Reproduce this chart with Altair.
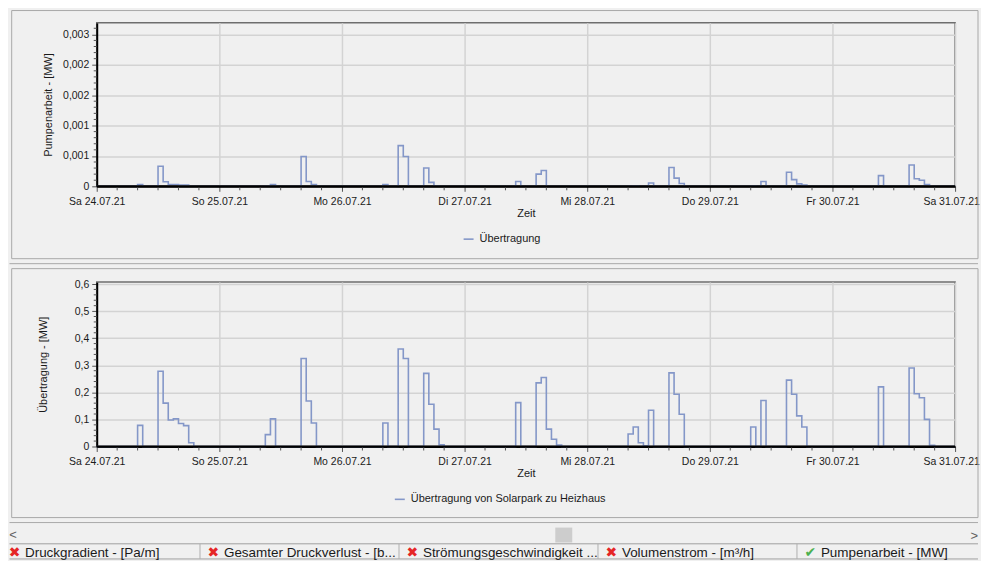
import altair as alt
import pandas as pd

FONT = "Liberation Sans"
LINE_COLOR = "#8497c8"
FRAME_COLOR = "#a9a9a9"
BG = "#f0f0f0"

N_HOURS = 168
DAY_TICKS = [0, 24, 48, 72, 96, 120, 144, 168]
DAY_LABELS = ["Sa 24.07.21", "So 25.07.21", "Mo 26.07.21", "Di 27.07.21",
              "Mi 28.07.21", "Do 29.07.21", "Fr 30.07.21", "Sa 31.07.21"]

TOP_Y_TICKS = [0, 0.0005, 0.001, 0.0015, 0.002, 0.0025]
TOP_Y_LABELS = ["0", "0,001", "0,001", "0,002", "0,002", "0,003"]
BOT_Y_TICKS = [0, 0.1, 0.2, 0.3, 0.4, 0.5, 0.6]
BOT_Y_LABELS = ["0", "0,1", "0,2", "0,3", "0,4", "0,5", "0,6"]

TOP_SERIES = "Übertragung"
BOT_SERIES = "Übertragung von Solarpark zu Heizhaus"

# start hour -> consecutive hourly values (MW)
PUMP_PEAKS = {
    8: [0.00003],
    12: [0.00033, 0.000076, 0.00003, 0.00003, 0.00002, 0.00002],
    33: [0.000005, 0.00003],
    40: [0.00049, 0.00008, 0.00003],
    56: [0.00003],
    59: [0.00067, 0.00049],
    64: [0.0003, 0.000065, 0.00001],
    82: [0.00008],
    86: [0.0002, 0.00026],
    104: [0.000003, 0.00001],
    108: [0.000055],
    112: [0.00031, 0.000135, 0.000045],
    128: [0.00001],
    130: [0.00008],
    135: [0.00023, 0.00011, 0.00004, 0.00002],
    153: [0.000175],
    159: [0.00035, 0.000125, 0.0001, 0.00003],
}
FLOW_PEAKS = {
    8: [0.078],
    12: [0.278, 0.16, 0.098, 0.102, 0.085, 0.077, 0.014],
    33: [0.044, 0.102],
    40: [0.325, 0.168, 0.087],
    56: [0.087],
    59: [0.36, 0.325],
    64: [0.27, 0.156, 0.064, 0.006],
    82: [0.162],
    86: [0.235, 0.255, 0.064, 0.027, 0.005],
    104: [0.046, 0.072, 0.014, 0.003, 0.134],
    112: [0.272, 0.193, 0.119],
    128: [0.072],
    130: [0.17],
    135: [0.245, 0.193, 0.113, 0.072],
    153: [0.22],
    159: [0.29, 0.195, 0.18, 0.1, 0.004],
}

TAB_NAMES = ["Druckgradient - [Pa/m]", "Gesamter Druckverlust - [b...",
             "Strömungsgeschwindigkeit ...", "Volumenstrom - [m³/h]",
             "Pumpenarbeit - [MW]"]
TAB_OK = [False, False, False, False, True]

PLOT_W = 861


def series_frame(peaks, name):
    vals = {}
    for start, seq in peaks.items():
        for k, v in enumerate(seq):
            vals[start + k] = v
    rows = [{"h": h, "v": vals.get(h, 0.0), "s": name} for h in range(N_HOURS + 1)]
    return pd.DataFrame(rows)


def panel(peaks, name, H, y_max, y_ticks, y_labels, y_minor, y_title, title_x,
          legend_x, legend_y, frame_top, frame_bottom, sep_y):
    df = series_frame(peaks, name)
    X = alt.X("h:Q", scale=alt.Scale(domain=[0, N_HOURS], nice=False, zero=False),
              axis=alt.Axis(values=DAY_TICKS,
                            labelExpr=f"{DAY_LABELS}[round(datum.value/24)]",
                            labelOffset={"condition": {"test": f"datum.value == {N_HOURS}",
                                                       "value": -4}, "value": 0},
                            title="Zeit", grid=True, labelFlush=False,
                            labelOverlap=False, tickSize=5, labelPadding=5,
                            titlePadding=1))
    Y = alt.Y("v:Q", scale=alt.Scale(domain=[0, y_max], nice=False, zero=True),
              axis=alt.Axis(values=y_ticks,
                            labelExpr=f"{y_labels}[round(datum.value/{y_ticks[1]})]",
                            title=y_title, grid=True, tickSize=5, labelPadding=3,
                            titleX=title_x, titleY=H / 2, titleAngle=-90,
                            titleAlign="center", titleBaseline="middle"))
    one = pd.DataFrame({"a": [0]})
    frame = alt.Chart(one).mark_rect(fillOpacity=0, stroke=FRAME_COLOR, strokeWidth=1).encode(
        x=alt.value(-85.3), x2=alt.value(884), y=alt.value(frame_top), y2=alt.value(frame_bottom))
    sep = alt.Chart(one).mark_rule(color=FRAME_COLOR, strokeWidth=1).encode(
        x=alt.value(-87.5), x2=alt.value(884), y=alt.value(sep_y))
    xminor = pd.DataFrame({"h": [h for h in range(4, N_HOURS, 4) if h % 24]})
    xm = alt.Chart(xminor).mark_rule(color="#555555", strokeWidth=1).encode(
        x=X, y=alt.value(H), y2=alt.value(H + 4))
    ym = alt.Chart(pd.DataFrame({"v": y_minor})).mark_rule(color="#555555", strokeWidth=1).encode(
        y=Y, x=alt.value(-3), x2=alt.value(0))
    line = alt.Chart(df).mark_line(interpolate="step-after", strokeWidth=1.6).encode(
        x=X, y=Y,
        color=alt.Color("s:N", scale=alt.Scale(range=[LINE_COLOR]),
                        legend=alt.Legend(title=None, orient="none", legendX=legend_x,
                                          legendY=legend_y, symbolType="stroke",
                                          symbolSize=100, symbolStrokeWidth=1.6,
                                          labelFontSize=11, labelFont=FONT,
                                          labelColor="#1a1a1a", labelOffset=5,
                                          labelLimit=0, padding=0)))
    base = alt.Chart(one).mark_rule(color="#000000", strokeWidth=2).encode(
        x=alt.value(0), x2=alt.value(PLOT_W), y=alt.value(H))
    return alt.layer(frame, sep, xm, ym, line, base).properties(width=PLOT_W, height=H)


top_minor = [round(i * 0.0001, 4) for i in range(1, 27) if i % 5]
bot_minor = [round(i * 0.02, 2) for i in range(1, 31) if i % 5]

top = panel(PUMP_PEAKS, TOP_SERIES, 164, 0.00269, TOP_Y_TICKS, TOP_Y_LABELS, top_minor,
            "Pumpenarbeit -  [MW]", -48, 367, 211, -12.3, 236.6, 241.6)
bot = panel(FLOW_PEAKS, BOT_SERIES, 165, 0.6074, BOT_Y_TICKS, BOT_Y_LABELS, bot_minor,
            "Übertragung -  [MW]", -53, 298, 212, -13.4, 236.3, 241.3)

tabs_df = pd.DataFrame({"i": list(range(len(TAB_NAMES))), "name": TAB_NAMES, "ok": TAB_OK})
TX = alt.X("i:Q", scale=alt.Scale(domain=[0, 4], range=[-96, 702.4]), axis=None)
one = pd.DataFrame({"a": [0]})
TEXT_Y = 11
tab_text = alt.Chart(tabs_df).mark_text(align="left", baseline="middle", fontSize=13.5,
                                        font=FONT, dx=24, color="#1a1a1a").encode(
    x=TX, y=alt.value(TEXT_Y), text="name:N")
tab_icon = alt.Chart(tabs_df).transform_calculate(
    icon="datum.ok ? '✔' : '✖'").mark_text(align="center", baseline="middle",
                                             fontSize=14, dx=13.5, font="DejaVu Sans").encode(
    x=TX, y=alt.value(TEXT_Y), text="icon:N",
    color=alt.Color("ok:N", scale=alt.Scale(domain=[False, True], range=["#e52626", "#4cb050"]),
                    legend=None))
tab_sep = alt.Chart(tabs_df).transform_filter("datum.i > 0").mark_rule(
    color="#b0b0b0", strokeWidth=1).encode(x=TX, y=alt.value(1.6), y2=alt.value(16.8))
tab_top = alt.Chart(one).mark_rule(color="#a0a0a0").encode(
    x=alt.value(-87.5), x2=alt.value(884), y=alt.value(1.6))
tab_bot = alt.Chart(one).mark_rule(color="#a0a0a0").encode(
    x=alt.value(-87.5), x2=alt.value(884), y=alt.value(16.8))
thumb = alt.Chart(one).mark_rect(color="#cdcdcd").encode(
    x=alt.value(460), x2=alt.value(477), y=alt.value(-14.7), y2=alt.value(0.3))
arrow_l = alt.Chart(one).mark_text(text="<", fontSize=13, color="#606060", font=FONT,
                                   baseline="middle").encode(x=alt.value(-84), y=alt.value(-7))
arrow_r = alt.Chart(one).mark_text(text=">", fontSize=13, color="#606060", font=FONT,
                                   baseline="middle", align="right").encode(
    x=alt.value(884), y=alt.value(-6))
tabs = alt.layer(tab_top, tab_bot, tab_sep, thumb, arrow_l, arrow_r, tab_icon, tab_text).properties(
    width=PLOT_W, height=8, view=alt.ViewBackground(strokeOpacity=0))

chart = alt.vconcat(top, bot, tabs, spacing=96, bounds="flush").resolve_scale(
    x="independent", y="independent", color="independent").resolve_legend(
    color="independent").properties(padding=0, background=BG).configure_axis(
    labelFont=FONT, titleFont=FONT, labelFontSize=10.5, titleFontSize=11,
    titleFontWeight="normal", labelColor="#1a1a1a", titleColor="#1a1a1a",
    domainColor="#000000", domainWidth=2, tickColor="#555555",
    gridColor="#d3d3d3", gridWidth=1.5).configure_view(
    stroke="#6e6e6e", strokeWidth=1.5)

chart.save("out.html", embed_options={"renderer": "svg", "actions": False})
